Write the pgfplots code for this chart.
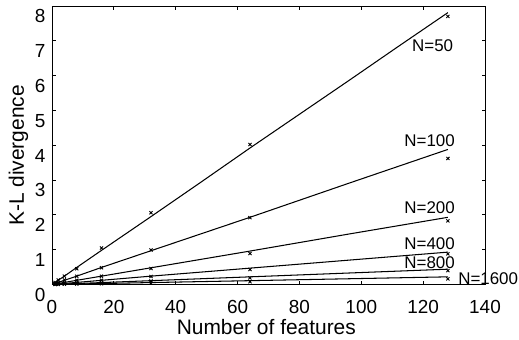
\documentclass[border=0pt]{standalone}
\usepackage{pgfplots}
\pgfplotsset{compat=1.18}
\usepackage{fontspec}
\setmainfont{Liberation Sans}
\begin{document}
\begin{tikzpicture}
\begin{axis}[
  scale only axis,
  width=433bp, height=278.5bp,
  xmin=0, xmax=140, ymin=0, ymax=8,
  xtick={0,20,...,140}, ytick={0,1,...,8},
  tick align=inside,
  major tick length=3.5bp,
  every tick/.style={black, line width=0.9pt},
  axis line style={line width=0.8pt},
  /pgf/number format/assume math mode=true,
  tick label style={font=\fontsize{19}{21}\selectfont, inner sep=0pt},
  xticklabel style={anchor=base, yshift=-28.8bp},
  yticklabel style={anchor=base east, xshift=-6.5bp, yshift=-16.8bp},
  label style={font=\fontsize{21}{23}\selectfont},
  xlabel={Number of features},
  ylabel={K-L divergence},
  xlabel style={at={(axis description cs:0.495,-0.181)}, anchor=base, inner sep=0pt},
  ylabel style={at={(axis description cs:-0.0774,0.463)}, anchor=center, inner sep=0pt},
  clip=false,
]
% fitted lines
\addplot[black, line width=1.05pt] coordinates {(1,0.06)(2,0.12)(4,0.24)(8,0.49)(16,0.98)(32,1.95)(48,2.93)(64,3.92)(80,4.89)(96,5.86)(112,6.84)(128,7.81)};
\addplot[black, line width=1.05pt] coordinates {(1,0.03)(2,0.06)(4,0.12)(8,0.24)(16,0.49)(32,0.97)(64,1.93)(96,2.91)(128,3.88)};
\addplot[black, line width=1.05pt] coordinates {(1,0.015)(2,0.03)(4,0.06)(8,0.12)(16,0.24)(32,0.48)(64,0.96)(96,1.45)(128,1.93)};
\addplot[black, line width=1.05pt] coordinates {(1,0.007)(2,0.015)(4,0.03)(8,0.06)(16,0.12)(32,0.24)(64,0.47)(96,0.70)(128,0.93)};
\addplot[black, line width=1.05pt] coordinates {(1,0.004)(4,0.014)(16,0.055)(32,0.11)(64,0.22)(96,0.33)(128,0.44)};
\addplot[black, line width=1.05pt] coordinates {(1,0.002)(16,0.028)(64,0.11)(128,0.22)};
% measured points
\addplot[only marks, mark=x, mark size=2.2bp, black, line width=0.9pt] coordinates {(1,0.06)(2,0.13)(4,0.24)(8,0.45)(16,1.05)(32,2.06)(64,4.02)(128,7.70)};
\addplot[only marks, mark=x, mark size=2.2bp, black, line width=0.9pt] coordinates {(1,0.03)(2,0.06)(4,0.13)(8,0.24)(16,0.48)(32,0.99)(64,1.92)(128,3.62)};
\addplot[only marks, mark=x, mark size=2.2bp, black, line width=0.9pt] coordinates {(1,0.015)(2,0.03)(4,0.06)(8,0.12)(16,0.24)(32,0.46)(64,0.89)(128,1.83)};
\addplot[only marks, mark=x, mark size=2.2bp, black, line width=0.9pt] coordinates {(1,0.008)(2,0.015)(4,0.03)(8,0.06)(16,0.12)(32,0.23)(64,0.43)(128,0.88)};
\addplot[only marks, mark=x, mark size=2.2bp, black, line width=0.9pt] coordinates {(1,0.004)(2,0.008)(4,0.015)(8,0.03)(16,0.05)(32,0.10)(64,0.19)(128,0.40)};
\addplot[only marks, mark=x, mark size=2.2bp, black, line width=0.9pt] coordinates {(1,0.002)(2,0.004)(4,0.008)(8,0.015)(16,0.02)(32,0.04)(64,0.08)(128,0.16)};
% labels
\node[anchor=base east, inner sep=0pt, font=\fontsize{17}{19}\selectfont] at (axis cs:129.75,6.69) {N=50};
\node[anchor=base east, inner sep=0pt, font=\fontsize{17}{19}\selectfont] at (axis cs:130.3,3.96) {N=100};
\node[anchor=base east, inner sep=0pt, font=\fontsize{17}{19}\selectfont] at (axis cs:130.3,2.03) {N=200};
\node[anchor=base east, inner sep=0pt, font=\fontsize{17}{19}\selectfont] at (axis cs:130.3,1.01) {N=400};
\node[anchor=base east, inner sep=0pt, font=\fontsize{17}{19}\selectfont] at (axis cs:130.3,0.45) {N=800};
\node[anchor=base west, inner sep=0pt, font=\fontsize{17}{19}\selectfont] at (axis cs:131.3,0.014) {N=1600};
\coordinate (O) at (rel axis cs:0,0);
\coordinate (T) at (rel axis cs:1,1);
\end{axis}
\path (O) ++(-52bp,-55.5bp) coordinate (A);
\path (T) ++(34bp,6bp) coordinate (B);
\pgfresetboundingbox
\useasboundingbox (A) rectangle (B);
\end{tikzpicture}
\end{document}
